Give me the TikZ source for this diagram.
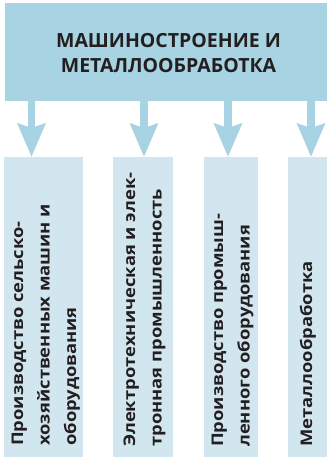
\documentclass[tikz,border=0pt]{standalone}
\usepackage{fontspec}
\setmainfont{Open Sans}
\newfontfamily\lblfont{Open Sans}[FakeStretch=1.15]
\usetikzlibrary{arrows.meta}
\definecolor{topblue}{RGB}{168,211,227}
\definecolor{boxblue}{RGB}{210,230,240}
\definecolor{txt}{RGB}{35,31,32}
\begin{document}
\begin{tikzpicture}[x=1pt,y=-1pt,
  box/.style={fill=boxblue, draw=none, inner sep=0, anchor=north west, minimum height=300pt},
  arr/.style={draw=topblue, line width=7.7pt, -{Stealth[length=33pt,width=27pt,inset=4pt]}},
  lbl/.style={rotate=90, anchor=base west, inner sep=0, text=txt, font=\lblfont\bfseries\fontsize{16}{26.5}\selectfont}]
\useasboundingbox (0,0) rectangle (327,457);
\node[fill=topblue, inner sep=0, anchor=north west, minimum width=322pt, minimum height=98pt] (top) at (5,3) {};
\node[anchor=base, inner sep=0, text=txt, font=\bfseries\fontsize{19.5}{25.5}\selectfont] (title) at (168.5,47.5)
  {\begin{tabular}[t]{@{}c@{}}МАШИНОСТРОЕНИЕ И\\МЕТАЛЛООБРАБОТКА\end{tabular}};
\node[box, minimum width=79pt] (b1) at (4,157) {};
\node[box, minimum width=60pt] (b2) at (113,157) {};
\node[box, minimum width=54pt] (b3) at (204,157) {};
\node[box, minimum width=39pt] (b4) at (288,157) {};
\coordinate (c1) at (31.5,0);
\coordinate (c2) at (144,0);
\coordinate (c3) at (228,0);
\coordinate (c4) at (311,0);
\draw[arr] (top.south -| c1) -- (b1.north -| c1);
\draw[arr] (top.south -| c2) -- (b2.north -| c2);
\draw[arr] (top.south -| c3) -- (b3.north -| c3);
\draw[arr] (top.south -| c4) -- (b4.north -| c4);
\node[lbl] (t1) at (23,446) {\begin{tabular}[t]{@{}l@{}}Производство сельско-\\хозяйственных машин и\\оборудования\end{tabular}};
\node[lbl] (t2) at (135,447) {\begin{tabular}[t]{@{}l@{}}Электротехническая и элек-\\тронная промышленность\end{tabular}};
\node[lbl] (t3) at (223,447) {\begin{tabular}[t]{@{}l@{}}Производство промыш-\\ленного оборудования\end{tabular}};
\node[lbl] (t4) at (312,447) {\begin{tabular}[t]{@{}l@{}}Металлообработка\end{tabular}};
\end{tikzpicture}
\end{document}
